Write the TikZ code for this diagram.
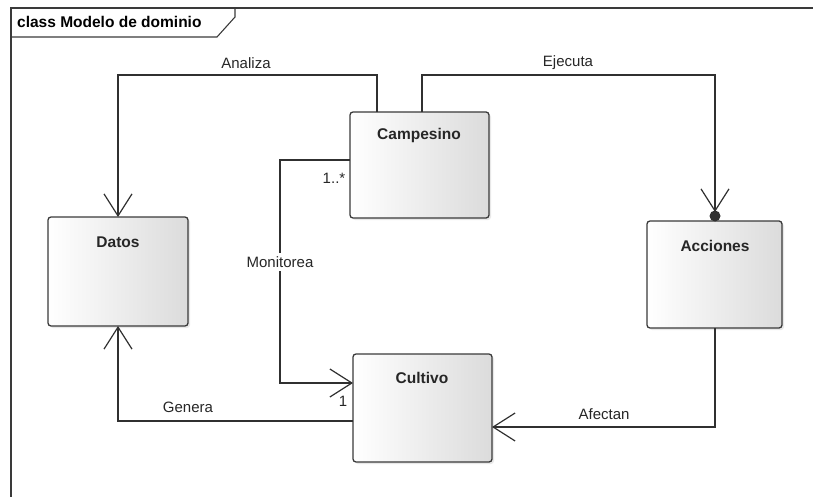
\documentclass[tikz,border=0pt]{standalone}
\usepackage{fontspec}
\setmainfont{Liberation Sans}
\usetikzlibrary{arrows.meta,shadows}
\definecolor{edge}{HTML}{303030}
\definecolor{boxline}{HTML}{3A3A3A}
\tikzset{
  classbox/.style={draw=boxline, line width=1.3pt, rounded corners=3pt,
    left color=white, right color=black!14,
    drop shadow={shadow xshift=2pt, shadow yshift=-2pt, opacity=0.18}},
  classname/.style={font=\fontsize{15.5}{17}\selectfont\bfseries, text=black!85},
  assoc/.style={draw=edge, line width=1.2pt},
  openhead/.style={-{Straight Barb[length=22pt,width=28pt,line width=1.2pt]}},
  rolelabel/.style={font=\fontsize{15}{17}\selectfont, text=black!85, inner sep=1pt}
}
\begin{document}
\begin{tikzpicture}[x=1pt,y=-1pt]
\useasboundingbox (0,0) rectangle (813,497);

% diagram frame with its name tab
\draw[draw=boxline, line width=1.2pt] (11,500) -- (11,8) -- (816,8);
\draw[draw=boxline, line width=1.1pt] (11,37) -- (217,37) -- (235,17) -- (235,8);
\node[anchor=west, font=\fontsize{15.5}{17}\selectfont\bfseries, inner sep=0pt] (frametitle) at (17,22) {class Modelo de dominio};

% classes
\path[classbox] (350,112) rectangle (489,218);
\path[classbox] (48,217) rectangle (188,326);
\path[classbox] (647,221) rectangle (782,328);
\path[classbox] (353,354) rectangle (492,462);
\node[classname] (campesino) at (419,135) {Campesino};
\node[classname] (datos) at (118,242) {Datos};
\node[classname] (acciones) at (715,246) {Acciones};
\node[classname] (cultivo) at (422,378) {Cultivo};

% anchor points on the class borders
\coordinate (campTopL) at (377,112);
\coordinate (campTopR) at (422,112);
\coordinate (campLeft) at (350,160);
\coordinate (datosTop) at (118,217);
\coordinate (datosBot) at (118,326);
\coordinate (accBot) at (715,328);
\coordinate (cultLeftA) at (353,383);
\coordinate (cultLeftB) at (353,421);
\coordinate (cultRight) at (492,427);
\coordinate (ejecTip) at (715,212);
\coordinate (ejecDot) at (715,216);

% Analiza
\draw[assoc, openhead] (campTopL) |- (118,75) -- (datosTop);
\node[rolelabel] (analiza) at (246,63) {Analiza};

% Ejecuta
\draw[assoc, openhead] (campTopR) |- (715,75) -- (ejecTip);
\fill[edge] (ejecDot) circle (5.5pt);
\node[rolelabel] (ejecuta) at (568,63) {Ejecuta};

% Monitorea
\draw[assoc, openhead] (campLeft) -- (280,160) |- (cultLeftA);
\node[rolelabel, fill=white, inner ysep=3pt] (monitorea) at (280,262) {Monitorea};
\node[rolelabel] (multA) at (334,178) {1..*};
\node[rolelabel] (multB) at (343,401) {1};

% Genera
\draw[assoc, openhead] (cultLeftB) -| (datosBot);
\node[rolelabel] (genera) at (188,407) {Genera};

% Afectan
\draw[assoc, openhead] (accBot) |- (cultRight);
\node[rolelabel] (afectan) at (604,414) {Afectan};
\end{tikzpicture}
\end{document}
